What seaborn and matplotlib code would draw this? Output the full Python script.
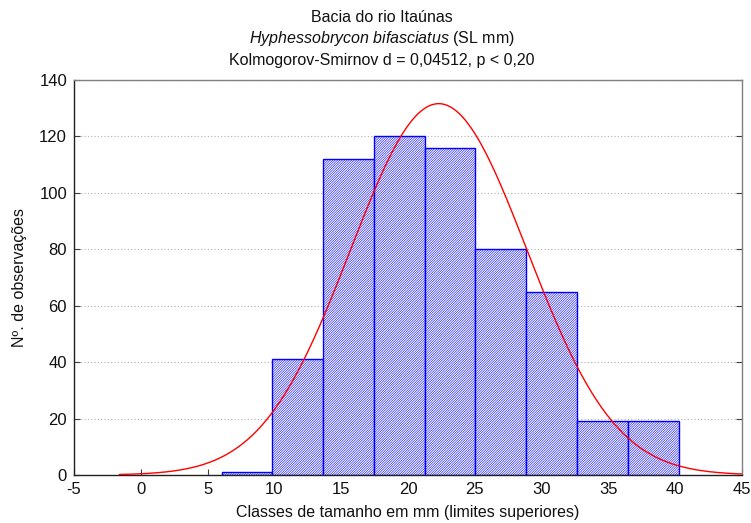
import numpy as np
import pandas as pd
import matplotlib
matplotlib.use("Agg")
import matplotlib.pyplot as plt
import seaborn as sns

# Data
bin_edges = [6.05, 9.85, 13.65, 17.45, 21.25, 25.05, 28.85, 32.65, 36.45, 40.25]
counts = [1, 41, 112, 120, 116, 80, 65, 19, 19]
fit_mean = 22.3
fit_sd = 6.6
curve_range = (-1.6, 45.0)

sns.set_theme(style="white")
plt.rcParams['font.family'] = ['Liberation Sans', 'DejaVu Sans']
plt.rcParams['axes.unicode_minus'] = False
plt.rcParams['mathtext.fontset'] = 'custom'
plt.rcParams['mathtext.rm'] = 'Liberation Sans'
plt.rcParams['mathtext.it'] = 'Liberation Sans:italic'
plt.rcParams['hatch.color'] = '#2a2aff'
plt.rcParams['hatch.linewidth'] = 0.4

fig = plt.figure(figsize=(7.51, 5.23), dpi=100)
ax = fig.add_axes([74/751, 48/523, (742-74)/751, (475-80)/523])

centers = [(bin_edges[i] + bin_edges[i+1]) / 2 for i in range(len(counts))]
df = pd.DataFrame({"x": centers, "w": counts})
sns.histplot(data=df, x="x", weights="w", bins=bin_edges, ax=ax,
             color="white", edgecolor="#0000ff", linewidth=1.0, alpha=1, zorder=2)
for p in ax.patches:
    p.set_hatch('/' * 14)
    p.set_facecolor('white')
    p.set_edgecolor('#0000ff')

width = bin_edges[1] - bin_edges[0]
n = sum(counts)
xs = np.linspace(curve_range[0], curve_range[1], 400)
ys = n * width / (fit_sd * np.sqrt(2 * np.pi)) * np.exp(-0.5 * ((xs - fit_mean) / fit_sd) ** 2)
sns.lineplot(x=xs, y=ys, ax=ax, color='#ff0000', linewidth=1.0, zorder=3)

ax.set_xlim(-5, 45)
ax.set_ylim(0, 140)
ax.set_xticks(np.arange(-5, 46, 5))
ax.set_yticks(np.arange(0, 141, 20))
ax.yaxis.grid(True, linestyle=(0, (1, 2)), color='#b0b0b0', linewidth=0.8, zorder=0)
ax.xaxis.grid(False)
ax.set_axisbelow(True)
ax.tick_params(axis='both', direction='in', length=4, width=0.8, color='#404040',
               labelsize=12, pad=5, right=True, top=False, left=True, bottom=True,
               labelcolor='#111111')
for s in ['left', 'bottom']:
    ax.spines[s].set_color('#202020')
    ax.spines[s].set_linewidth(1.0)
for s in ['top', 'right']:
    ax.spines[s].set_color('#808080')
    ax.spines[s].set_linewidth(1.0)

ax.set_xlabel("Classes de tamanho em mm (limites superiores)", fontsize=11.5,
              labelpad=6, color='#111111')
ax.set_ylabel("Nº. de observações", fontsize=11.5, labelpad=9, color='#111111')

tx = 382 / 751
fig.text(tx, 1 - 18/523, "Bacia do rio Itaúnas", ha='center', va='center',
         fontsize=11.5, color='#111111')
fig.text(tx, 1 - 39/523, r"$\mathit{Hyphessobrycon\ bifasciatus}$ (SL mm)", ha='center',
         va='center', fontsize=11.5, color='#111111')
fig.text(tx, 1 - 61/523, "Kolmogorov-Smirnov d = 0,04512, p < 0,20", ha='center',
         va='center', fontsize=11.5, color='#111111')

fig.savefig("out.png", dpi=100)
